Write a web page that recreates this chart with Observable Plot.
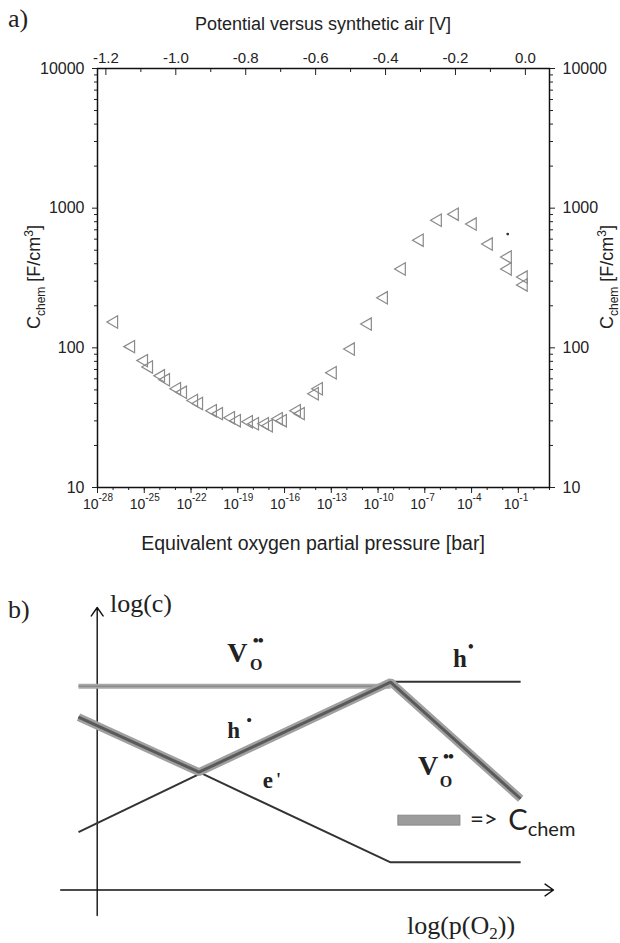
<!DOCTYPE html>
<html>
<head>
<meta charset="utf-8">
<script src="https://cdn.jsdelivr.net/npm/d3@7"></script>
<script src="https://cdn.jsdelivr.net/npm/@observablehq/plot@0.6"></script>
<style>
  html, body { margin: 0; padding: 0; background: #fff; }
  #page { position: relative; width: 620px; height: 943px; overflow: hidden; background: #fff; }
  #page svg { position: absolute; left: 0; overflow: visible; }
</style>
</head>
<body>
<div id="page"></div>
<script>
// ---------------- Panel a : measured chemical capacitance ----------------
// log10 of equivalent oxygen partial pressure [bar]
const pressureLog = [-26.94, -25.85, -25.02, -24.70, -23.93, -23.61, -22.90, -22.52, -21.81, -21.49,
                     -20.60, -20.21, -19.44, -19.06, -18.29, -17.90, -17.26, -17.01, -16.37, -16.11,
                     -15.21, -14.96, -14.06, -13.80, -12.91, -11.75, -10.66, -9.63, -8.48, -7.33,
                     -6.17, -5.08, -3.93, -2.90, -1.68, -1.68, -0.66, -0.66];
// chemical capacitance [F/cm3]
const capacitance = [153, 102, 81, 73, 63, 59, 51, 48, 42, 40,
                     35.5, 33.8, 31.6, 30.1, 29.6, 28.6, 28.6, 27.7, 31.1, 30.1,
                     35.5, 33.8, 46.9, 50.9, 66.3, 98, 148, 228, 367, 590,
                     820, 906, 769, 553, 447, 367, 321, 282];
const speckPressureLog = [-1.68];
const speckCapacitance = [652];

const pressureDomain = [1e-28, 1e1];
const pressureLabelExponents = [-28, -25, -22, -19, -16, -13, -10, -7, -4, -1];
const pressureTickExponents = [-28, -27, -26, -25, -24, -23, -22, -21, -20, -19, -18, -17, -16, -15, -14,
                               -13, -12, -11, -10, -9, -8, -7, -6, -5, -4, -3, -2, -1, 0, 1];
const capacitanceDomain = [10, 10000];
const capacitanceMajor = [10, 100, 1000, 10000];
const capacitanceMinor = [20, 30, 40, 50, 60, 70, 80, 90, 200, 300, 400, 500, 600, 700, 800, 900,
                          2000, 3000, 4000, 5000, 6000, 7000, 8000, 9000];
const voltageLabels = [-1.2, -1.0, -0.8, -0.6, -0.4, -0.2, 0.0];
const voltageMinor = [-1.1, -0.9, -0.7, -0.5, -0.3, -0.1];
const voltageDomain = [-1.224, 0.069];

// ---------------- Panel b : schematic defect diagram (arbitrary log units) ----------------
const vacancyX = [-0.41, 6.43];           const vacancyY = [7.21, 7.21];
const holeHighX = [6.43, 9.28];           const holeHighY = [7.37, 7.37];
const holeLowX = [-0.41, 6.43];           const holeLowY = [2.05, 7.36];
const electronX = [-0.41, 2.23, 6.43, 9.28]; const electronY = [6.12, 4.17, 0.98, 0.98];
const cchemX = [-0.41, 2.23, 6.43, 9.28];    const cchemY = [6.12, 4.17, 7.36, 3.23];
const legendBarX = [6.60, 7.96];          const legendBarY = [2.28, 2.63];
const axisArrows = [
  {x1: -0.80, y1: 0, x2: 10, y2: 0},
  {x1: 0, y1: -0.90, x2: 0, y2: 10}
];

const SANS = "'Liberation Sans', Arial, sans-serif";
const SERIF = "'Liberation Serif', 'Times New Roman', serif";
const INK = "#222";

const leftTriangle = {
  draw(ctx, size) {
    const s = Math.sqrt(size * 4 / Math.sqrt(3));
    const h = s * Math.sqrt(3) / 2;
    ctx.moveTo(-2 * h / 3, 0);
    ctx.lineTo(h / 3, -s / 2);
    ctx.lineTo(h / 3, s / 2);
    ctx.closePath();
  }
};

function addText(svg, x, y, opts, pieces) {
  const t = d3.select(svg).append("text")
    .attr("x", x).attr("y", y)
    .attr("font-family", opts.family || SANS)
    .attr("font-size", opts.size || 16)
    .attr("fill", opts.fill || INK)
    .attr("text-anchor", opts.anchor || "start");
  if (opts.weight) t.attr("font-weight", opts.weight);
  if (opts.transform) t.attr("transform", opts.transform);
  if (opts.spacing) t.attr("letter-spacing", opts.spacing);
  for (const p of pieces) {
    const s = t.append("tspan").text(p.text);
    if (p.size) s.attr("font-size", p.size);
    if (p.dy) s.attr("dy", p.dy);
    if (p.dx) s.attr("dx", p.dx);
    if (p.family) s.attr("font-family", p.family);
    if (p.weight) s.attr("font-weight", p.weight);
  }
  return t;
}

const page = document.getElementById("page");
const idx = arr => arr.map((_, i) => i);

// ---- panel a main plot ----
const frameA = {width: 620, height: 560, marginTop: 68, marginBottom: 73, marginLeft: 97, marginRight: 71};
const plotA = Plot.plot({
  ...frameA,
  style: {background: "transparent", fontFamily: SANS, color: INK, overflow: "visible"},
  x: {type: "log", domain: pressureDomain},
  y: {type: "log", domain: capacitanceDomain},
  marks: [
    Plot.axisY({anchor: "left", ticks: capacitanceMajor, tickSize: 5, tickPadding: 8, tickFormat: d => String(d), fontSize: 16, label: null}),
    Plot.axisY({anchor: "left", ticks: capacitanceMinor, tickSize: 3, tickFormat: () => "", label: null}),
    Plot.axisY({anchor: "right", ticks: capacitanceMajor, tickSize: 5, tickPadding: 8, tickFormat: d => String(d), fontSize: 16, label: null}),
    Plot.axisY({anchor: "right", ticks: capacitanceMinor, tickSize: 3, tickFormat: () => "", label: null}),
    Plot.axisX({anchor: "bottom", ticks: pressureTickExponents.map(e => 10 ** e), tickSize: 3, tickFormat: () => "", label: null}),
    Plot.axisX({anchor: "bottom", ticks: pressureLabelExponents.map(e => 10 ** e), tickSize: 6, tickFormat: () => "", label: null}),
    Plot.text(pressureLabelExponents, {x: e => 10 ** e, y: capacitanceDomain[0], text: () => "10", textAnchor: "end",
      lineAnchor: "bottom", dy: 21, dx: 1, fontSize: 14, fill: INK}),
    Plot.text(pressureLabelExponents, {x: e => 10 ** e, y: capacitanceDomain[0], text: e => String(e), textAnchor: "start",
      lineAnchor: "bottom", dy: 13, dx: 1, fontSize: 10, fill: INK}),
    Plot.frame({stroke: "#111", strokeWidth: 1.5}),
    Plot.dot(idx(pressureLog), {x: i => 10 ** pressureLog[i], y: i => capacitance[i], symbol: leftTriangle, r: 4.6,
      stroke: "#8a8a8a", strokeWidth: 1.2, fill: "none"}),
    Plot.dot(idx(speckPressureLog), {x: i => 10 ** speckPressureLog[i], y: i => speckCapacitance[i], r: 1.4, fill: "#333", stroke: "none"})
  ]
});
plotA.style.top = "0px";
page.appendChild(plotA);

// top axis: potential versus synthetic air, on its own linear scale
const plotTop = Plot.plot({
  ...frameA,
  style: {background: "transparent", fontFamily: SANS, color: INK, overflow: "visible"},
  x: {domain: voltageDomain},
  marks: [
    Plot.axisX({anchor: "top", ticks: voltageLabels, tickSize: -6, tickPadding: 12, tickFormat: d => d.toFixed(1), fontSize: 15, label: null}),
    Plot.axisX({anchor: "top", ticks: voltageMinor, tickSize: -3, tickFormat: () => "", label: null})
  ]
});
plotTop.style.top = "0px";
page.appendChild(plotTop);

// panel a texts
addText(plotA, 8, 27, {family: SERIF, size: 26}, [{text: "a)"}]);
addText(plotA, 323, 30, {size: 18, anchor: "middle"}, [{text: "Potential versus synthetic air [V]"}]);
addText(plotA, 313, 550, {size: 19.5, anchor: "middle"}, [{text: "Equivalent oxygen partial pressure [bar]"}]);
const yLabel = [
  {text: "C"}, {text: "chem", size: 12, dy: 5}, {text: " [F/cm", dy: -5}, {text: "3", size: 12, dy: -7}, {text: "]", dy: 7}
];
addText(plotA, 0, 0, {size: 18, anchor: "middle", transform: "translate(40,277) rotate(-90)"}, yLabel);
addText(plotA, 0, 0, {size: 18, anchor: "middle", transform: "translate(613,277) rotate(-90)"}, yLabel);

// ---- panel b ----
const plotB = Plot.plot({
  width: 620, height: 383, marginTop: 47, marginBottom: 53.5, marginLeft: 96.7, marginRight: 67,
  style: {background: "transparent", fontFamily: SERIF, color: INK, overflow: "visible"},
  x: {domain: [0, 10], axis: null},
  y: {domain: [0, 10], axis: null},
  marks: [
    Plot.arrow(axisArrows, {x1: "x1", y1: "y1", x2: "x2", y2: "y2", stroke: "#111", strokeWidth: 1.4, headLength: 11, headAngle: 70}),
    Plot.line(idx(vacancyX), {x: i => vacancyX[i], y: i => vacancyY[i], stroke: "#a8a8a8", strokeWidth: 5, strokeLinecap: "butt"}),
    Plot.line(idx(vacancyX), {x: i => vacancyX[i], y: i => vacancyY[i], stroke: "#8c8c8c", strokeWidth: 1.5, strokeLinecap: "butt"}),
    Plot.line(idx(holeLowX), {x: i => holeLowX[i], y: i => holeLowY[i], stroke: "#333", strokeWidth: 2, strokeLinecap: "butt"}),
    Plot.line(idx(electronX), {x: i => electronX[i], y: i => electronY[i], stroke: "#333", strokeWidth: 2, strokeLinecap: "butt", strokeLinejoin: "miter"}),
    Plot.line(idx(holeHighX), {x: i => holeHighX[i], y: i => holeHighY[i], stroke: "#333", strokeWidth: 2, strokeLinecap: "butt"}),
    Plot.line(idx(cchemX), {x: i => cchemX[i], y: i => cchemY[i], stroke: "#a0a0a0", strokeWidth: 8, strokeLinecap: "butt", strokeLinejoin: "miter"}),
    Plot.line(idx(cchemX), {x: i => cchemX[i], y: i => cchemY[i], stroke: "#5a5a5a", strokeWidth: 3, strokeLinecap: "butt", strokeLinejoin: "miter"}),
    Plot.rect([0], {x1: () => legendBarX[0], x2: () => legendBarX[1], y1: () => legendBarY[0], y2: () => legendBarY[1],
      fill: "#9c9c9c", stroke: "#8a8a8a", strokeWidth: 1})
  ]
});
plotB.style.top = "560px";
page.appendChild(plotB);

const sx = v => plotB.scale("x").apply(v);
const sy = v => plotB.scale("y").apply(v);
addText(plotB, 8, 58, {family: SERIF, size: 26}, [{text: "b)"}]);
addText(plotB, sx(0.29), sy(9.82), {family: SERIF, size: 26}, [{text: "log(c)"}]);
// upper V_O••
addText(plotB, sx(2.86), sy(8.05), {family: SERIF, size: 28, weight: "bold"}, [{text: "V"}]);
addText(plotB, sx(3.36), sy(7.77), {family: SERIF, size: 16, weight: "bold"}, [{text: "O"}]);
addText(plotB, sx(3.53), sy(8.62), {family: SERIF, size: 17, weight: "bold", anchor: "middle", spacing: -1}, [{text: "••"}]);
// upper right h•
addText(plotB, sx(7.81), sy(7.88), {family: SERIF, size: 25, weight: "bold"}, [{text: "h"}]);
addText(plotB, sx(8.2), sy(8.42), {family: SERIF, size: 16, weight: "bold", anchor: "middle"}, [{text: "•"}]);
// middle h•
addText(plotB, sx(2.86), sy(5.36), {family: SERIF, size: 23, weight: "bold"}, [{text: "h"}]);
addText(plotB, sx(3.34), sy(5.82), {family: SERIF, size: 15, weight: "bold", anchor: "middle"}, [{text: "•"}]);
// e'
addText(plotB, sx(3.64), sy(3.59), {family: SERIF, size: 23, weight: "bold"}, [{text: "e"}, {text: "'", dx: 3, dy: -2, size: 18}]);
// lower V_O••
addText(plotB, sx(7.04), sy(4.05), {family: SERIF, size: 28, weight: "bold"}, [{text: "V"}]);
addText(plotB, sx(7.52), sy(3.63), {family: SERIF, size: 16, weight: "bold"}, [{text: "O"}]);
addText(plotB, sx(7.70), sy(4.50), {family: SERIF, size: 17, weight: "bold", anchor: "middle", spacing: -1}, [{text: "••"}]);
// legend text
addText(plotB, sx(8.18), sy(2.21), {family: "Lato, 'Open Sans', sans-serif", size: 24}, [{text: "=>"}]);
addText(plotB, sx(9.02), sy(2.11), {family: "Lato, 'Open Sans', sans-serif", size: 29}, [{text: "C"}, {text: "chem", size: 20, dy: 6}]);
// x label
addText(plotB, sx(6.80), sy(-1.57), {family: SERIF, size: 26}, [{text: "log(p(O"}, {text: "2", size: 17, dy: 5}, {text: "))", dy: -5}]);
</script>
</body>
</html>
